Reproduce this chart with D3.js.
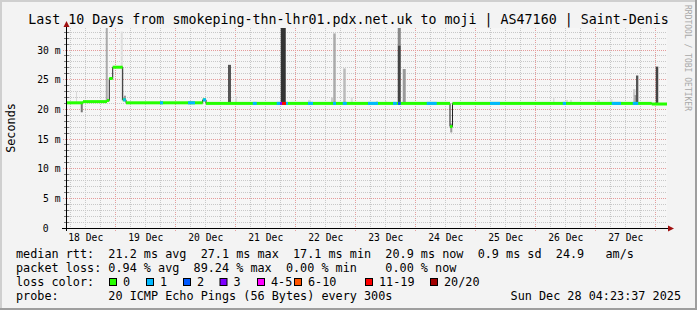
<!DOCTYPE html>
<html><head><meta charset="utf-8">
<script src="https://cdn.jsdelivr.net/npm/d3@7"></script>
<style>
body{margin:0;background:#f3f3f3}
svg text{font-family:"DejaVu Sans Mono",monospace;white-space:pre}
</style>
</head><body>
<svg id="c" width="697" height="310"></svg>
<script>
// ---------------- data ----------------
const title = "Last 10 Days from smokeping-thn-lhr01.pdx.net.uk to moji | AS47160 | Saint-Denis";
const timeStart = "2025-12-18 04:30";
const timeEnd = "2025-12-28 04:30";
const dayLabels = ["18 Dec","19 Dec","20 Dec","21 Dec","22 Dec","23 Dec","24 Dec","25 Dec","26 Dec","27 Dec"];
const yTicks = [0,5,10,15,20,25,30];
const yTickLabels = ["0","5 m","10 m","15 m","20 m","25 m","30 m"];
const yAxisTitle = "Seconds";

// median rtt (ms) as step changes
const medianTimes = ["2025-12-18 04:30","2025-12-18 10:54","2025-12-18 20:30","2025-12-18 21:25","2025-12-18 22:47",
  "2025-12-19 02:47","2025-12-19 04:06","2025-12-20 10:47","2025-12-20 12:06","2025-12-24 13:42","2025-12-24 14:42","2025-12-27 22:24"];
const medianValues = [21.1,21.3,21.5,25.2,27.1,21.6,21.1,21.6,21.0,17.1,21.0,20.9];

// loss periods: start, end, lost pings
const lossStart = ["2025-12-19 03:00","2025-12-19 17:42","2025-12-20 04:54","2025-12-20 10:54","2025-12-21 06:48",
  "2025-12-21 16:24","2025-12-21 17:42","2025-12-21 18:30","2025-12-21 20:06","2025-12-22 04:54","2025-12-22 14:54",
  "2025-12-22 18:48","2025-12-23 04:54","2025-12-23 14:54","2025-12-23 16:54","2025-12-24 04:24","2025-12-25 05:42",
  "2025-12-26 10:48","2025-12-27 06:24","2025-12-27 14:48"];
const lossEnd = ["2025-12-19 04:00","2025-12-19 18:54","2025-12-20 07:42","2025-12-20 12:06","2025-12-21 08:24",
  "2025-12-21 17:42","2025-12-21 18:30","2025-12-21 20:06","2025-12-21 20:54","2025-12-22 06:54","2025-12-22 16:06",
  "2025-12-22 20:24","2025-12-23 08:54","2025-12-23 16:24","2025-12-23 18:00","2025-12-24 08:24","2025-12-25 09:42",
  "2025-12-26 12:06","2025-12-27 10:06","2025-12-27 17:00"];
const lossCount = [1,1,1,1,1,1,3,15,1,1,1,1,1,1,2,1,1,1,1,1];

// smoke (ping spread): time, duration (min), low ms, high ms, shade
const smokeTimes = ["2025-12-18 08:06","2025-12-18 10:00","2025-12-18 20:00","2025-12-19 02:00","2025-12-19 03:18",
  "2025-12-20 20:54","2025-12-20 23:42","2025-12-21 18:00","2025-12-22 04:54","2025-12-22 14:06","2025-12-22 15:00",
  "2025-12-22 19:00","2025-12-22 22:00","2025-12-23 08:06","2025-12-23 11:42","2025-12-23 16:48","2025-12-23 16:48",
  "2025-12-23 18:48","2025-12-24 13:48","2025-12-26 06:54","2025-12-26 12:06","2025-12-26 13:42","2025-12-27 00:30",
  "2025-12-27 05:42","2025-12-27 14:54","2025-12-27 15:30","2025-12-27 16:06","2025-12-28 00:00"];
const smokeMinutes = [24,48,48,48,48,72,48,120,72,48,60,60,48,48,36,72,72,72,48,36,48,48,72,60,60,36,56,60];
const smokeLow  = [21.1,19.5,21.4,21.5,21.6,21.0,21.0,21.0,21.0,21.0,21.0,21.0,21.0,21.0,21.0,21.0,30.8,21.0,16.1,21.0,21.0,21.0,21.0,21.0,21.0,21.0,21.0,20.9];
const smokeHigh = [23.0,21.2,40,33.1,22.3,27.5,22.2,40,21.6,22.0,32.8,26.9,22.0,21.4,21.4,30.8,40,26.8,17.6,22.0,21.6,21.6,21.6,21.7,23.4,22.4,25.7,27.2];
const smokeShade = ["#d8d8d8","#777","#aaa","#ddd","#999","#555","#ddd","#333","#ddd","#ccc","#aaa","#bbb","#ddd","#ddd","#ddd","#444","#888","#999","#999","#ddd","#ddd","#ddd","#ddd","#ddd","#ccc","#999","#555","#444"];

// legend
const legendLine1 = "median rtt:  21.2 ms avg  27.1 ms max  17.1 ms min  20.9 ms now  0.9 ms sd  24.9   am/s";
const legendLine2 = "packet loss: 0.94 % avg  89.24 % max  0.00 % min    0.00 % now";
const legendLine3 = "loss color:";
const lossLegendLabels = ["0","1","2","3","4-5","6-10","11-19","20/20"];
const lossLegendColors = ["#26ff00","#00b8ff","#0059ff","#7e00ff","#ff00ff","#ff5500","#ff0000","#a10000"];
const lossBins = [0,1,2,3,5,10,19,20];
const legendLine4 = "probe:       20 ICMP Echo Pings (56 Bytes) every 300s";
const stamp = "Sun Dec 28 04:23:37 2025";
const watermark = "RRDTOOL / TOBI OETIKER";

// ---------------- layout ----------------
const W = 697, H = 310;
const L = 67, R = 667, T = 28, B = 228;
const parse = d3.timeParse("%Y-%m-%d %H:%M");
const t0 = parse(timeStart), t1 = parse(timeEnd);
const x = d3.scaleTime().domain([t0, t1]).range([L, R]);
const y = d3.scaleLinear().domain([0, 200/5.933]).range([B, T]);
const px = v => Math.floor(v) + 0.5;

const svg = d3.select("#c");
svg.append("rect").attr("width", W).attr("height", H).attr("fill", "#f3f3f3");
// 3D frame
svg.append("path").attr("d", `M0,0H${W}V2H2V${H}H0Z`).attr("fill", "#cfcfcf");
svg.append("path").attr("d", `M${W},${H}H0V${H-2}H${W-2}V0H${W}Z`).attr("fill", "#9e9e9e");
svg.append("rect").attr("x", L).attr("y", T).attr("width", R - L).attr("height", B - T).attr("fill", "#f6f6f6");

// grid
const grid = svg.append("g");
const hours6 = d3.timeHour.every(6).range(t0, t1);
hours6.forEach(t => {
  const major = t.getHours() === 0;
  grid.append("line").attr("x1", px(x(t))).attr("x2", px(x(t)))
    .attr("y1", T).attr("y2", B + (major ? 3 : 0))
    .attr("stroke", major ? "#e59a9a" : "#c8c8c8").attr("stroke-dasharray", "1,1");
});
d3.range(1, 34).forEach(v => {
  const major = v % 5 === 0;
  grid.append("line").attr("x1", major ? 63 : L).attr("x2", R)
    .attr("y1", px(y(v))).attr("y2", px(y(v)))
    .attr("stroke", major ? "#e59a9a" : "#c8c8c8").attr("stroke-dasharray", "1,1");
  svg.append("line").attr("x1", 64).attr("x2", 69).attr("y1", px(y(v))).attr("y2", px(y(v)))
    .attr("stroke", "#606060").attr("stroke-width", 1).attr("opacity", major ? 0 : 0.8);
});

// clip
svg.append("clipPath").attr("id", "pc").append("rect").attr("x", L).attr("y", T).attr("width", R - L).attr("height", B - T);
const plot = svg.append("g").attr("clip-path", "url(#pc)");

// smoke
smokeTimes.forEach((s, i) => {
  const ts = parse(s), te = new Date(+ts + smokeMinutes[i] * 60000);
  plot.append("rect").attr("x", x(ts)).attr("width", Math.max(1, x(te) - x(ts)))
    .attr("y", y(smokeHigh[i])).attr("height", y(smokeLow[i]) - y(smokeHigh[i]))
    .attr("fill", smokeShade[i]);
});

// median black line
const mt = medianTimes.map(parse);
const pts = mt.map((t, i) => [t, medianValues[i]]).concat([[t1, medianValues[medianValues.length - 1]]]);
plot.append("path").attr("d", d3.line().x(d => x(d[0])).y(d => y(d[1])).curve(d3.curveStepAfter)(pts))
  .attr("fill", "none").attr("stroke", "#202020").attr("stroke-width", 1);

// loss-coloured median band
const medianAt = t => medianValues[Math.max(0, d3.bisectRight(mt, t) - 1)];
const colorFor = n => lossLegendColors[lossBins.findIndex(b => n <= b)];
for (let i = 0; i < mt.length; i++) {
  const a = mt[i], b = i + 1 < mt.length ? mt[i + 1] : t1;
  plot.append("rect").attr("x", x(a)).attr("width", x(b) - x(a))
    .attr("y", y(medianValues[i]) - 1.5).attr("height", 3).attr("fill", lossLegendColors[0]);
}
lossStart.forEach((s, i) => {
  const a = parse(s), b = parse(lossEnd[i]);
  plot.append("rect").attr("x", x(a)).attr("width", x(b) - x(a))
    .attr("y", y(medianAt(a)) - 1.5).attr("height", 3).attr("fill", colorFor(lossCount[i]));
});

// axes
svg.append("line").attr("x1", 62).attr("x2", 669).attr("y1", B + 0.5).attr("y2", B + 0.5).attr("stroke", "#000");
svg.append("line").attr("x1", L - 0.5).attr("x2", L - 0.5).attr("y1", B + 3).attr("y2", 25).attr("stroke", "#000");
svg.append("path").attr("d", `M${L - 3.5},27L${L + 2.5},27L${L - 0.5},21Z`).attr("fill", "#a01010");
svg.append("path").attr("d", `M668,${B - 2.5}L668,${B + 3.5}L674,${B + 0.5}Z`).attr("fill", "#a01010");

// x labels at noon
dayLabels.forEach((lab, i) => {
  const t = d3.timeHour.offset(d3.timeDay.floor(t0), 24 * i + 12);
  svg.append("text").attr("x", x(t)).attr("y", 241).attr("text-anchor", "middle")
    .attr("font-size", "9.7px").attr("fill", "#000").text(lab);
});
// y labels
yTicks.forEach((v, i) => {
  svg.append("text").attr("x", v === 0 ? 48.5 : 60.5).attr("y", y(v) + 3.5).attr("text-anchor", "end")
    .attr("font-size", "9.7px").attr("fill", "#000").text(yTickLabels[i]);
});
svg.append("text").attr("transform", `translate(15,128) rotate(-90)`).attr("text-anchor", "middle")
  .attr("font-size", "11.8px").attr("fill", "#000").text(yAxisTitle);

// title
svg.append("text").attr("x", 348.5).attr("y", 24).attr("text-anchor", "middle")
  .attr("font-size", "13.3px").attr("fill", "#000").text(title);
// watermark
svg.append("text").attr("transform", "translate(685,5) rotate(90)")
  .attr("font-size", "8px").attr("fill", "#a8a8a8").text(watermark);

// legend
const lf = "11.8px";
svg.append("text").attr("x", 16).attr("y", 257.5).attr("font-size", lf).text(legendLine1);
svg.append("text").attr("x", 16).attr("y", 271.5).attr("font-size", lf).text(legendLine2);
svg.append("text").attr("x", 16).attr("y", 285.5).attr("font-size", lf).text(legendLine3);
const boxX = [109, 146, 183, 219.5, 257, 294, 365, 430];
lossLegendLabels.forEach((lab, i) => {
  svg.append("rect").attr("x", boxX[i] + 0.5).attr("y", 278.5).attr("width", 7).attr("height", 7)
    .attr("fill", lossLegendColors[i]).attr("stroke", "#000");
  svg.append("text").attr("x", boxX[i] + 14).attr("y", 285.5).attr("font-size", lf).text(lab);
});
svg.append("text").attr("x", 16).attr("y", 299.5).attr("font-size", lf).text(legendLine4);
svg.append("text").attr("x", 681).attr("y", 299.5).attr("text-anchor", "end").attr("font-size", lf).text(stamp);
</script>
</body></html>
